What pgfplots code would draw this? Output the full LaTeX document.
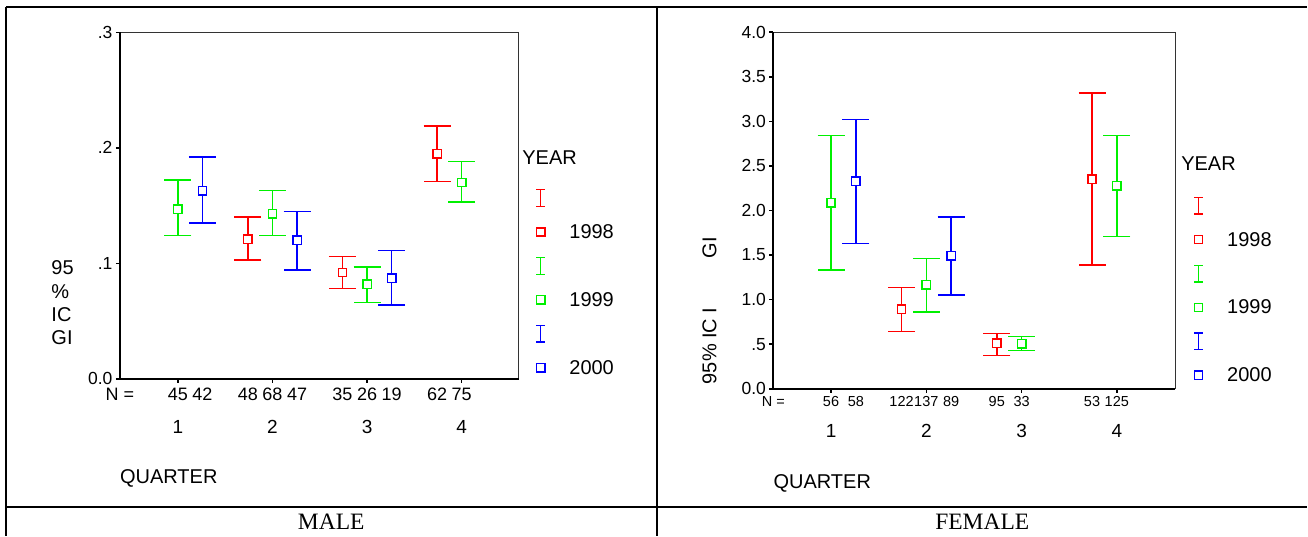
\documentclass[border=0pt]{standalone}
\usepackage{pgfplots}
\pgfplotsset{compat=1.18}
\usepackage{pgfplotstable}
\usepackage{fontspec}
\setmainfont{Liberation Sans}
\newfontfamily\seriffont{Liberation Serif}
\newcommand\fs[1]{\fontsize{#1}{#1}\selectfont}
\definecolor{cR}{RGB}{255,0,0}
\definecolor{cG}{RGB}{0,240,0}
\definecolor{cB}{RGB}{0,0,255}

% MALE
\pgfplotstableread{
x y lo hi
1.74 0.121 0.103 0.140
2.74 0.092 0.078 0.106
3.74 0.195 0.171 0.219
}\maleA
\pgfplotstableread{
x y lo hi
1 0.147 0.124 0.172
2 0.143 0.124 0.163
3 0.082 0.066 0.097
4 0.170 0.153 0.188
}\maleB
\pgfplotstableread{
x y lo hi
1.26 0.163 0.135 0.192
2.26 0.120 0.094 0.145
3.26 0.087 0.064 0.111
}\maleC
% FEMALE
\pgfplotstableread{
x y lo hi
1.74 0.890 0.640 1.136
2.74 0.508 0.373 0.619
3.74 2.350 1.390 3.320
}\femA
\pgfplotstableread{
x y lo hi
1 2.085 1.330 2.840
2 1.166 0.863 1.460
3 0.504 0.430 0.588
4 2.276 1.710 2.840
}\femB
\pgfplotstableread{
x y lo hi
1.26 2.330 1.630 3.020
2.26 1.490 1.054 1.925
}\femC

\pgfplotsset{
  spss/.style={
    scale only axis, clip=false,
    tick pos=left, tick align=outside, major tick length=4pt,
    tick style={black, line width=1.6pt},
    axis line style={black!80, line width=1.1pt},
    xtick={1,2,3,4}, xticklabels={1,2,3,4},
    yticklabel style={font=\fs{17.5}},
    xticklabel style={font=\fs{19}, anchor=center},
    legend cell align=left,
    legend style={draw=none, fill=none, inner sep=0pt, row sep=15pt, column sep=20pt,
      font=\fs{20}, nodes={inner sep=0pt, text height=16pt, text depth=3pt}},
  },
  eb/.style={only marks, mark=square*, mark size=4.2pt, line width=1.5pt,
    mark options={fill=white, solid},
    error bars/y dir=both, error bars/y explicit, error bars/error mark=-,
    error bars/error mark options={rotate=90, mark size=13.5pt, line width=1.5pt},
    error bars/error bar style={line width=1.5pt}},
  legI/.style={legend image code/.code={
    \draw[line width=1.4pt, ##1] (0.3cm,-8.3pt)--(0.3cm,8.3pt)
      (0.3cm-4.3pt,-8.3pt)--(0.3cm+4.3pt,-8.3pt)
      (0.3cm-4.3pt,8.3pt)--(0.3cm+4.3pt,8.3pt);
    \path (0cm,0pt) (0.6cm,0pt);}},
}

\begin{document}
\begin{tikzpicture}
% page frame
\path (0pt,0pt) rectangle (1308pt,-536pt);
\draw[line width=2pt] (6pt,-7pt) -- (1308pt,-7pt);
\draw[line width=2pt] (6pt,-7pt) -- (6pt,-536pt);
\draw[line width=2pt] (657.7pt,-7pt) -- (657.7pt,-536pt);
\draw[line width=2pt] (6pt,-507.5pt) -- (1308pt,-507.5pt);
\node[font=\seriffont\fontsize{23.5}{23.5}\selectfont] at (331.5pt,-522.5pt) {MALE};
\node[font=\seriffont\fontsize{23.5}{23.5}\selectfont] at (983pt,-522.5pt) {FEMALE};

% ---------------- MALE ----------------
\begin{axis}[spss, at={(120pt,-379pt)}, anchor=south west,
  width=399pt, height=346.5pt,
  xmin=0.387, xmax=4.602, ymin=0, ymax=0.3,
  ytick={0,0.1,0.2,0.3}, yticklabels={0.0,.1,.2,.3},
  xticklabel style={yshift=-44pt},
  legend style={at={(1.033,0.55)}, anchor=north west},
]
\addlegendimage{legI, cR}\addlegendentry{}
\addplot[eb, cR] table[x=x, y=y, y error plus expr=\thisrow{hi}-\thisrow{y}, y error minus expr=\thisrow{y}-\thisrow{lo}] {\maleA};
\addlegendentry{1998}
\addlegendimage{legI, cG}\addlegendentry{}
\addplot[eb, cG] table[x=x, y=y, y error plus expr=\thisrow{hi}-\thisrow{y}, y error minus expr=\thisrow{y}-\thisrow{lo}] {\maleB};
\addlegendentry{1999}
\addlegendimage{legI, cB}\addlegendentry{}
\addplot[eb, cB] table[x=x, y=y, y error plus expr=\thisrow{hi}-\thisrow{y}, y error minus expr=\thisrow{y}-\thisrow{lo}] {\maleC};
\addlegendentry{2000}
\draw[black, line width=2pt] (rel axis cs:0,1) -- (rel axis cs:0,0) -- (rel axis cs:1,0);
\begin{scope}[every node/.style={font=\fs{18}, yshift=-16pt}]
\node at (rel axis cs:0,0) {N =};
\node at (axis cs:1,0) {45};
\node at (axis cs:1.26,0) {42};
\node at (axis cs:1.74,0) {48};
\node at (axis cs:2,0) {68};
\node at (axis cs:2.26,0) {47};
\node at (axis cs:2.74,0) {35};
\node at (axis cs:3,0) {26};
\node at (axis cs:3.26,0) {19};
\node at (axis cs:3.74,0) {62};
\node at (axis cs:4,0) {75};
\end{scope}
\node[font=\fs{20}, anchor=west, inner sep=0pt, yshift=-100pt] at (rel axis cs:0,0) {QUARTER};
\node[font=\fs{20}, anchor=west, inner sep=0pt] at (rel axis cs:1.009,0.639) {YEAR};
\end{axis}
\node[font=\fontsize{20}{23.3}\selectfont, anchor=west, align=left] at (48pt,-303pt) {95\\\%\\IC\\GI};

% ---------------- FEMALE ----------------
\begin{axis}[spss, at={(774pt,-389pt)}, anchor=south west,
  width=402pt, height=356.7pt,
  xmin=0.395, xmax=4.612, ymin=0, ymax=4,
  ytick={0,0.5,1,1.5,2,2.5,3,3.5,4},
  yticklabels={0.0,.5,1.0,1.5,2.0,2.5,3.0,3.5,4.0},
  xticklabel style={yshift=-38pt},
  legend style={at={(1.036,0.541)}, anchor=north west},
]
\addlegendimage{legI, cR}\addlegendentry{}
\addplot[eb, cR] table[x=x, y=y, y error plus expr=\thisrow{hi}-\thisrow{y}, y error minus expr=\thisrow{y}-\thisrow{lo}] {\femA};
\addlegendentry{1998}
\addlegendimage{legI, cG}\addlegendentry{}
\addplot[eb, cG] table[x=x, y=y, y error plus expr=\thisrow{hi}-\thisrow{y}, y error minus expr=\thisrow{y}-\thisrow{lo}] {\femB};
\addlegendentry{1999}
\addlegendimage{legI, cB}\addlegendentry{}
\addplot[eb, cB] table[x=x, y=y, y error plus expr=\thisrow{hi}-\thisrow{y}, y error minus expr=\thisrow{y}-\thisrow{lo}] {\femC};
\addlegendentry{2000}
\draw[black, line width=2pt] (rel axis cs:0,1) -- (rel axis cs:0,0) -- (rel axis cs:1,0);
\begin{scope}[every node/.style={font=\fs{14.5}, yshift=-13pt}]
\node at (rel axis cs:0,0) {N =};
\node at (axis cs:1,0) {56};
\node at (axis cs:1.26,0) {58};
\node at (axis cs:1.74,0) {122};
\node at (axis cs:2,0) {137};
\node at (axis cs:2.26,0) {89};
\node at (axis cs:2.74,0) {95};
\node at (axis cs:3,0) {33};
\node at (axis cs:3.74,0) {53};
\node at (axis cs:4,0) {125};
\end{scope}
\node[font=\fs{20}, anchor=west, inner sep=0pt, yshift=-95pt] at (rel axis cs:0,0) {QUARTER};
\node[font=\fs{20}, anchor=west, inner sep=0pt] at (rel axis cs:1.015,0.6309) {YEAR};
\end{axis}
\node[font=\fs{20}, rotate=90, anchor=west] at (710pt,-388pt) {95\% IC I};
\node[font=\fs{20}, rotate=90, anchor=west] at (710pt,-262pt) {GI};
\end{tikzpicture}
\end{document}
